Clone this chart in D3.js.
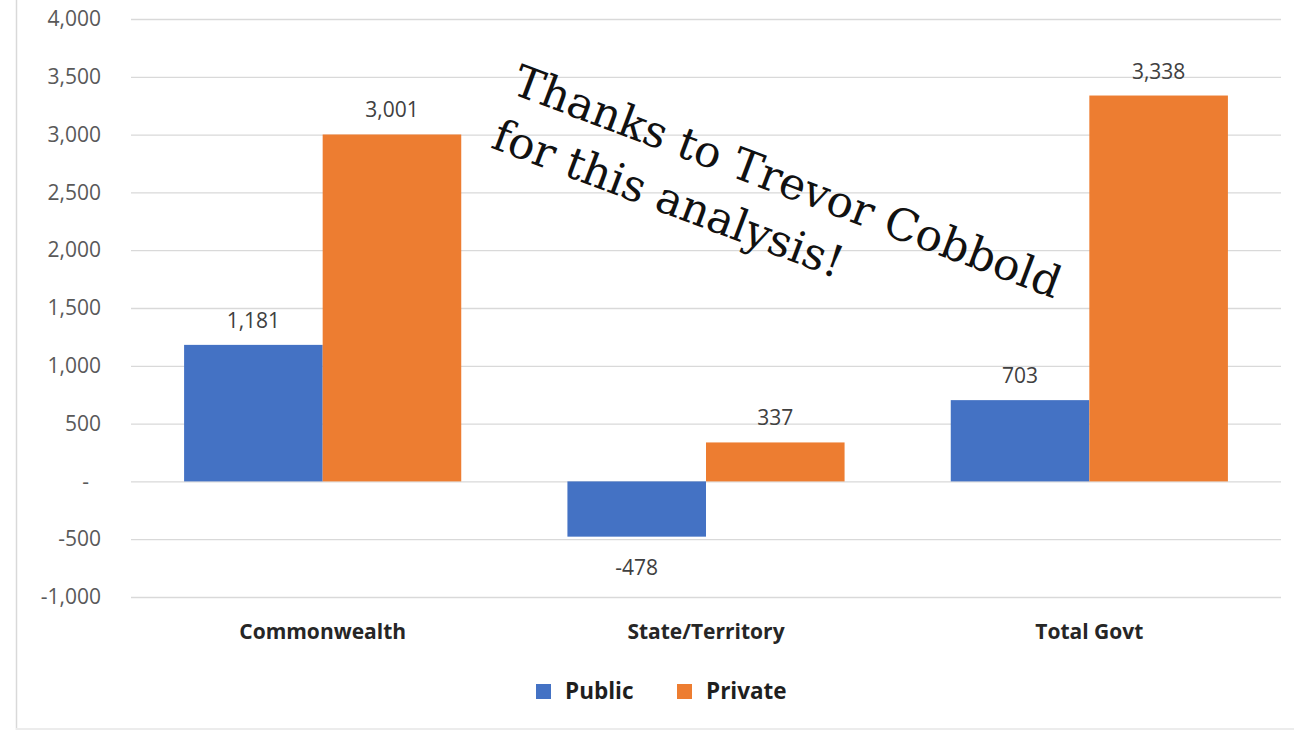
<!DOCTYPE html>
<html>
<head>
<meta charset="utf-8">
<script src="https://cdn.jsdelivr.net/npm/d3@7"></script>
<style>
  html, body { margin: 0; padding: 0; background: #fff; }
  svg { display: block; }
</style>
</head>
<body>
<svg id="chart" width="1294" height="730"></svg>
<script>
// Funding change by level of government, public vs private schools
const categories = ["Commonwealth", "State/Territory", "Total Govt"];
const seriesNames = ["Public", "Private"];
const publicValues = [1181, -478, 703];
const privateValues = [3001, 337, 3338];
const yTicks = [-1000, -500, 0, 500, 1000, 1500, 2000, 2500, 3000, 3500, 4000];
const noteLines = ["Thanks to Trevor Cobbold", "for this analysis!"];

const colors = { Public: "#4472C4", Private: "#ED7D31" };
const rows = categories.map((c, i) => ({
  category: c,
  values: [
    { key: "Public", value: publicValues[i] },
    { key: "Private", value: privateValues[i] }
  ]
}));

const svg = d3.select("#chart");
const W = 1294, H = 730;
const plot = { left: 131, right: 1281, top: 19, bottom: 597 };

// frame edges
svg.append("line").attr("x1", 16.5).attr("x2", 16.5).attr("y1", 0).attr("y2", H)
  .attr("stroke", "#d9d9d9").attr("stroke-width", 1.5);
svg.append("line").attr("x1", 16).attr("x2", W).attr("y1", 729).attr("y2", 729)
  .attr("stroke", "#ececec").attr("stroke-width", 2);

const x0 = d3.scaleBand().domain(categories).range([plot.left, plot.right])
  .paddingInner(0.277).paddingOuter(0.1385);
const x1 = d3.scaleBand().domain(seriesNames).range([0, x0.bandwidth()]);
const y = d3.scaleLinear().domain([-1000, 4000]).range([plot.bottom, plot.top]);

// thousands separator, plain hyphen for negatives
const locale = d3.formatLocale({ decimal: ".", thousands: ",", grouping: [3], currency: ["$", ""], minus: "-" });
const fmt = locale.format(",");

// gridlines and value axis
const yAxis = d3.axisLeft(y).tickValues(yTicks)
  .tickSize(-(plot.right - plot.left)).tickPadding(30)
  .tickFormat(d => d === 0 ? "-" : fmt(d));
const gy = svg.append("g").attr("transform", `translate(${plot.left},0)`).call(yAxis);
gy.select(".domain").remove();
gy.selectAll(".tick line").attr("stroke", "#d9d9d9").attr("stroke-width", 1.3);
gy.selectAll(".tick text")
  .attr("fill", "#595959")
  .style("font-family", "'Open Sans', sans-serif")
  .style("font-size", "21px")
  .attr("dx", d => d === 0 ? -12 : 0);

// bars
const groups = svg.append("g").selectAll("g").data(rows).join("g")
  .attr("transform", d => `translate(${x0(d.category)},0)`);
groups.selectAll("rect").data(d => d.values).join("rect")
  .attr("x", d => x1(d.key))
  .attr("width", x1.bandwidth())
  .attr("y", d => y(Math.max(0, d.value)))
  .attr("height", d => Math.abs(y(d.value) - y(0)))
  .attr("fill", d => colors[d.key]);

// value labels
groups.selectAll("text").data(d => d.values).join("text")
  .attr("x", d => x1(d.key) + x1.bandwidth() / 2)
  .attr("y", d => d.value >= 0 ? y(d.value) - 17 : y(d.value) + 38)
  .attr("text-anchor", "middle")
  .attr("fill", "#404040")
  .style("font-family", "'Open Sans', sans-serif")
  .style("font-size", "21px")
  .text(d => fmt(d.value));

// category labels
svg.append("g").selectAll("text").data(categories).join("text")
  .attr("x", d => x0(d) + x0.bandwidth() / 2)
  .attr("y", 639)
  .attr("text-anchor", "middle")
  .attr("fill", "#262626")
  .style("font-family", "'Open Sans', sans-serif")
  .style("font-weight", "bold")
  .style("font-size", "21px")
  .text(d => d);

// legend
const legendItems = [
  { key: "Public", x: 536, tx: 565 },
  { key: "Private", x: 677, tx: 706 }
];
const lg = svg.append("g");
lg.selectAll("rect").data(legendItems).join("rect")
  .attr("x", d => d.x).attr("y", 684).attr("width", 15).attr("height", 15)
  .attr("fill", d => colors[d.key]);
lg.selectAll("text").data(legendItems).join("text")
  .attr("x", d => d.tx).attr("y", 699)
  .attr("fill", "#1f1f1f")
  .style("font-family", "'Open Sans', sans-serif")
  .style("font-weight", "bold")
  .style("font-size", "22.5px")
  .text(d => d.key);

// slanted note
const note = svg.append("g").attr("transform", "translate(510,93) rotate(20.7)");
note.selectAll("text").data(noteLines).join("text")
  .attr("x", 0).attr("y", (d, i) => i * 58)
  .attr("fill", "#111")
  .style("font-family", "'DejaVu Serif', serif")
  .style("font-size", "44px")
  .text(d => d);
</script>
</body>
</html>
